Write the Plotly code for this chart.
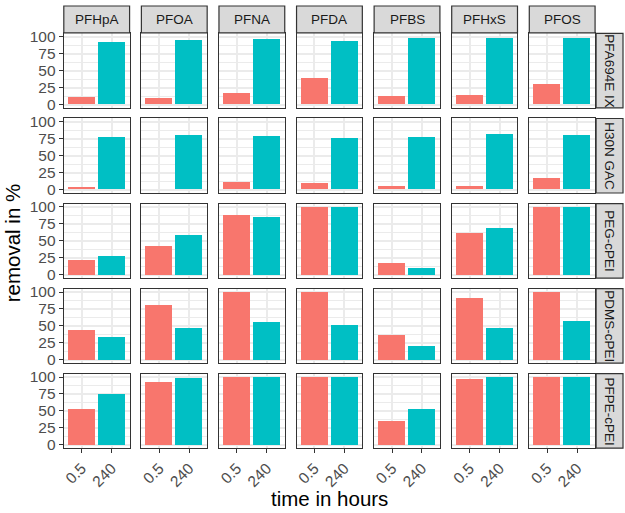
import plotly.graph_objects as go

compounds = ["PFHpA", "PFOA", "PFNA", "PFDA", "PFBS", "PFHxS", "PFOS"]
materials = ["PFA694E IX", "H30N GAC", "PEG-cPEI", "PDMS-cPEI", "PFPE-cPEI"]
times = ["0.5", "240"]

pfa694e_0_5h = [10, 9, 16, 39, 12, 14, 30]
pfa694e_240h = [91, 95, 96, 93, 98, 98, 97]
h30n_0_5h = [3, 0, 10, 9, 4, 5, 17]
h30n_240h = [77, 80, 79, 75, 77, 82, 80]
peg_0_5h = [22, 43, 89, 100, 18, 62, 100]
peg_240h = [28, 59, 86, 100, 10, 70, 100]
pdms_0_5h = [45, 82, 100, 100, 37, 92, 100]
pdms_240h = [34, 47, 57, 52, 21, 48, 58]
pfpe_0_5h = [53, 93, 100, 100, 35, 98, 100]
pfpe_240h = [75, 99, 100, 100, 54, 100, 100]

series = [
    (pfa694e_0_5h, pfa694e_240h),
    (h30n_0_5h, h30n_240h),
    (peg_0_5h, peg_240h),
    (pdms_0_5h, pdms_240h),
    (pfpe_0_5h, pfpe_240h),
]

W, H = 625, 513
bar_colors = ["#F8766D", "#00BFC4"]
col_left0, col_step, panel_w = 62.0, 77.83, 66.0
row_top0, row_step, panel_h = 29.0, 86.75, 76.0
strip_top = 1.0
strip_right_x0, strip_right_x1 = 596.0, 623.0

def fx(x):
    return x / W

def fy(y):
    return 1 - y / H

fig = go.Figure()
layout = {}
shapes = []
annotations = []

tick_font = dict(family="Liberation Sans, Arial, sans-serif", size=15.5, color="#4D4D4D")
strip_font = dict(family="Liberation Sans, Arial, sans-serif", size=13.5, color="#1A1A1A")

for r, mat in enumerate(materials):
    for c, comp in enumerate(compounds):
        k = r * 7 + c + 1
        xa = "x" if k == 1 else f"x{k}"
        ya = "y" if k == 1 else f"y{k}"
        x0 = col_left0 + c * col_step
        x1 = x0 + panel_w
        y0 = row_top0 + r * row_step
        y1 = y0 + panel_h
        vals = [series[r][0][c], series[r][1][c]]
        fig.add_trace(go.Bar(
            x=times, y=vals, xaxis=xa, yaxis=ya, width=0.9,
            marker=dict(color=bar_colors, line=dict(width=0)),
            showlegend=False, hoverinfo="x+y",
        ))
        last_row = r == len(materials) - 1
        first_col = c == 0
        layout["xaxis" if k == 1 else f"xaxis{k}"] = dict(
            domain=[fx(x0), fx(x1)], anchor=ya, type="category",
            range=[-0.6, 1.6], showgrid=True, gridcolor="#EBEBEB", gridwidth=1.6,
            showline=True, mirror=True, linecolor="#333333", linewidth=1.2,
            ticks="outside" if last_row else "", ticklen=4, tickwidth=1.1,
            tickcolor="#333333", showticklabels=last_row, tickangle=-45,
            tickfont=tick_font, zeroline=False, fixedrange=True,
        )
        layout["yaxis" if k == 1 else f"yaxis{k}"] = dict(
            domain=[fy(y1), fy(y0)], anchor=xa,
            range=[-5, 105], tickvals=[0, 25, 50, 75, 100],
            showgrid=True, gridcolor="#EBEBEB", gridwidth=1.6,
            minor=dict(tickvals=[12.5, 37.5, 62.5, 87.5], showgrid=True,
                       gridcolor="#EBEBEB", gridwidth=0.8, ticks=""),
            showline=True, mirror=True, linecolor="#333333", linewidth=1.2,
            ticks="outside" if first_col else "", ticklen=4, tickwidth=1.1,
            tickcolor="#333333", showticklabels=first_col,
            tickfont=tick_font, zeroline=False, fixedrange=True,
        )
        if r == 0:
            shapes.append(dict(type="rect", xref="paper", yref="paper",
                               x0=fx(x0), x1=fx(x1), y0=fy(row_top0 - 0.5), y1=fy(strip_top),
                               fillcolor="#D9D9D9", line=dict(color="#333333", width=1.2),
                               layer="above"))
            annotations.append(dict(xref="paper", yref="paper",
                                    x=fx((x0 + x1) / 2), y=fy((strip_top + row_top0) / 2),
                                    text=comp, showarrow=False, font=strip_font,
                                    xanchor="center", yanchor="middle"))
    y0 = row_top0 + r * row_step
    y1 = y0 + panel_h
    shapes.append(dict(type="rect", xref="paper", yref="paper",
                       x0=fx(strip_right_x0), x1=fx(strip_right_x1), y0=fy(y1), y1=fy(y0),
                       fillcolor="#D9D9D9", line=dict(color="#333333", width=1.2),
                       layer="above"))
    annotations.append(dict(xref="paper", yref="paper",
                            x=fx((strip_right_x0 + strip_right_x1) / 2), y=fy((y0 + y1) / 2),
                            text=mat, showarrow=False, font=strip_font, textangle=90,
                            xanchor="center", yanchor="middle"))

title_font = dict(family="Liberation Sans, Arial, sans-serif", size=20.5, color="#000000")
annotations.append(dict(xref="paper", yref="paper", x=fx(328.5), y=fy(503),
                        text="time in hours", showarrow=False, font=title_font,
                        xanchor="center", yanchor="middle"))
annotations.append(dict(xref="paper", yref="paper", x=fx(10), y=fy(242),
                        text="removal in %", showarrow=False, font=title_font,
                        textangle=-90, xanchor="center", yanchor="middle"))

fig.update_layout(
    width=W, height=H, autosize=False,
    margin=dict(l=0, r=0, t=0, b=0, pad=0),
    paper_bgcolor="white", plot_bgcolor="white",
    bargap=0, shapes=shapes, annotations=annotations,
    **layout,
)

fig.write_html("out.html")
